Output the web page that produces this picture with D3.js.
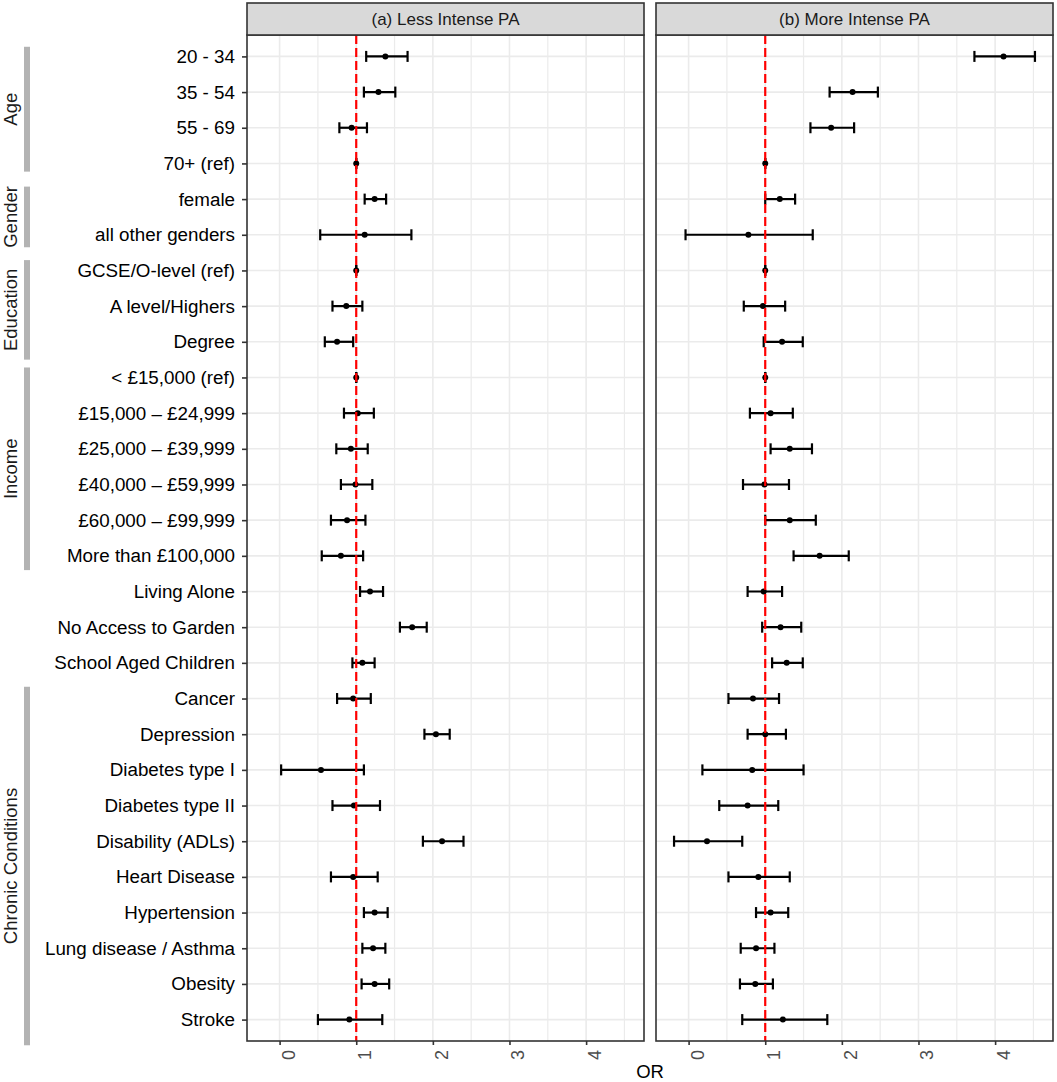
<!DOCTYPE html>
<html lang="en">
<head>
  <meta charset="UTF-8" />
  <title>Odds ratios for less and more intense PA</title>
  <script src="https://d3js.org/d3.v7.min.js"></script>
  <style>
    body { margin: 0; background: #fff; }
    svg { display: block; font-family: "Liberation Sans", Arial, Helvetica, sans-serif; }
  </style>
</head>
<body>
  <svg id="chart" width="1057" height="1082"></svg>

  <script>
    // Row labels, top to bottom
    const categories = [
      "20 - 34", "35 - 54", "55 - 69", "70+ (ref)",
      "female", "all other genders",
      "GCSE/O-level (ref)", "A level/Highers", "Degree",
      "< £15,000 (ref)", "£15,000 – £24,999", "£25,000 – £39,999",
      "£40,000 – £59,999", "£60,000 – £99,999", "More than £100,000",
      "Living Alone", "No Access to Garden", "School Aged Children",
      "Cancer", "Depression", "Diabetes type I", "Diabetes type II",
      "Disability (ADLs)", "Heart Disease", "Hypertension",
      "Lung disease / Asthma", "Obesity", "Stroke"
    ];

    // (a) Less Intense PA
    const lessOR = [1.38, 1.29, 0.94, 1, 1.24, 1.11, 1, 0.87, 0.75, 1, 1.02, 0.93, 0.99, 0.88, 0.80,
                    1.18, 1.73, 1.08, 0.96, 2.04, 0.54, 0.97, 2.12, 0.96, 1.24, 1.22, 1.24, 0.91];
    const lessLo = [1.13, 1.10, 0.78, 1, 1.11, 0.53, 1, 0.69, 0.59, 1, 0.84, 0.74, 0.80, 0.67, 0.55,
                    1.05, 1.57, 0.95, 0.75, 1.89, 0.02, 0.69, 1.87, 0.67, 1.10, 1.08, 1.07, 0.50];
    const lessHi = [1.67, 1.51, 1.14, 1, 1.39, 1.72, 1, 1.08, 0.96, 1, 1.23, 1.15, 1.21, 1.12, 1.09,
                    1.35, 1.92, 1.24, 1.19, 2.22, 1.10, 1.31, 2.40, 1.28, 1.41, 1.38, 1.43, 1.34];

    // (b) More Intense PA
    const moreOR = [4.11, 2.14, 1.86, 1, 1.19, 0.78, 1, 0.97, 1.22, 1, 1.07, 1.32, 0.99, 1.32, 1.71,
                    0.98, 1.20, 1.28, 0.84, 1.00, 0.83, 0.77, 0.24, 0.91, 1.07, 0.88, 0.87, 1.23];
    const moreLo = [3.73, 1.84, 1.59, 1, 1.00, -0.04, 1, 0.72, 0.98, 1, 0.80, 1.07, 0.71, 1.00, 1.37,
                    0.77, 0.96, 1.09, 0.52, 0.77, 0.18, 0.40, -0.19, 0.52, 0.88, 0.68, 0.67, 0.70];
    const moreHi = [4.52, 2.47, 2.16, 1, 1.39, 1.62, 1, 1.26, 1.49, 1, 1.36, 1.61, 1.31, 1.66, 2.09,
                    1.22, 1.47, 1.49, 1.18, 1.27, 1.50, 1.17, 0.70, 1.32, 1.30, 1.12, 1.10, 1.81];

    const panelTitles = ["(a) Less Intense PA", "(b) More Intense PA"];
    const xTicks = [0, 1, 2, 3, 4];
    const xMinorTicks = [0.5, 1.5, 2.5, 3.5, 4.5];
    const refLine = 1;

    // Variable groups on the left, as [first row, last row] in row units
    const groupNames = ["Age", "Gender", "Education", "Income", "Chronic Conditions"];
    const groupSpans = [[-0.27, 3.23], [3.65, 5.35], [5.71, 8.5], [8.72, 14.4], [17.67, 27.72]];

    const svg = d3.select("#chart");

    const stripTop = 3, stripH = 32;
    const plotTop = stripTop + stripH, plotBottom = 1041;
    const panelW = 397, panelLeft = [247, 656];

    const panels = [
      {title: panelTitles[0], or: lessOR, lo: lessLo, hi: lessHi},
      {title: panelTitles[1], or: moreOR, lo: moreLo, hi: moreHi}
    ];

    // shared x scale, ggplot style 5% expansion
    const xmin = d3.min([...lessLo, ...moreLo]);
    const xmax = d3.max([...lessHi, ...moreHi]);
    const pad = (xmax - xmin) * 0.05;
    const x = d3.scaleLinear().domain([xmin - pad, xmax + pad]).range([0, panelW]);

    const y = d3.scaleLinear()
        .domain([-0.6, categories.length - 0.4])
        .range([plotTop, plotBottom]);

    panels.forEach((p, k) => {
      const g = svg.append("g").attr("transform", `translate(${panelLeft[k]},0)`);

      // grid
      g.selectAll(".vminor").data(xMinorTicks).enter().append("line")
          .attr("x1", d => x(d)).attr("x2", d => x(d))
          .attr("y1", plotTop).attr("y2", plotBottom)
          .attr("stroke", "#ebebeb").attr("stroke-width", 1.2);
      g.selectAll(".vmajor").data(xTicks).enter().append("line")
          .attr("x1", d => x(d)).attr("x2", d => x(d))
          .attr("y1", plotTop).attr("y2", plotBottom)
          .attr("stroke", "#ebebeb").attr("stroke-width", 1.6);
      g.selectAll(".hgrid").data(categories).enter().append("line")
          .attr("x1", 0).attr("x2", panelW)
          .attr("y1", (d, i) => y(i)).attr("y2", (d, i) => y(i))
          .attr("stroke", "#ebebeb").attr("stroke-width", 1.6);

      // error bars
      const rows = categories.map((c, i) => ({i, or: p.or[i], lo: p.lo[i], hi: p.hi[i]}));
      const eb = g.selectAll(".eb").data(rows).enter().append("g")
          .attr("stroke", "#000").attr("stroke-width", 2.2);
      eb.append("line")
          .attr("x1", d => x(d.lo)).attr("x2", d => x(d.hi))
          .attr("y1", d => y(d.i)).attr("y2", d => y(d.i));
      eb.append("line")
          .attr("x1", d => x(d.lo)).attr("x2", d => x(d.lo))
          .attr("y1", d => y(d.i) - 5.5).attr("y2", d => y(d.i) + 5.5);
      eb.append("line")
          .attr("x1", d => x(d.hi)).attr("x2", d => x(d.hi))
          .attr("y1", d => y(d.i) - 5.5).attr("y2", d => y(d.i) + 5.5);

      g.selectAll(".pt").data(rows).enter().append("circle")
          .attr("cx", d => x(d.or)).attr("cy", d => y(d.i))
          .attr("r", 3).attr("fill", "#000");

      // reference line at OR = 1
      g.append("line")
          .attr("x1", x(refLine)).attr("x2", x(refLine))
          .attr("y1", plotTop).attr("y2", plotBottom)
          .attr("stroke", "#ff0000").attr("stroke-width", 2.2)
          .attr("stroke-dasharray", "9,4");

      // panel border
      g.append("rect")
          .attr("x", 0).attr("y", plotTop)
          .attr("width", panelW).attr("height", plotBottom - plotTop)
          .attr("fill", "none").attr("stroke", "#333").attr("stroke-width", 1.6);

      // strip
      g.append("rect")
          .attr("x", 0).attr("y", stripTop)
          .attr("width", panelW).attr("height", stripH)
          .attr("fill", "#d9d9d9").attr("stroke", "#333").attr("stroke-width", 1.6);
      g.append("text")
          .attr("x", panelW / 2).attr("y", stripTop + stripH / 2)
          .attr("dy", "0.36em")
          .attr("text-anchor", "middle")
          .attr("font-size", "17px")
          .attr("fill", "#1a1a1a")
          .text(p.title);

      // x axis
      const xa = g.append("g")
          .attr("transform", `translate(0,${plotBottom})`)
          .call(d3.axisBottom(x).tickValues(xTicks).tickFormat(d3.format("d"))
            .tickSize(4).tickSizeOuter(0));
      xa.select(".domain").remove();
      xa.selectAll(".tick line").attr("stroke", "#333").attr("stroke-width", 1.6);
      xa.selectAll(".tick text")
          .attr("x", null).attr("y", null).attr("dy", null)
          .attr("transform", "translate(14.5,14) rotate(-90)")
          .attr("text-anchor", "middle")
          .attr("font-size", "18px")
          .attr("font-family", null)
          .attr("fill", "#4d4d4d");
    });

    // y axis on the left panel
    const ya = svg.append("g")
        .attr("transform", `translate(${panelLeft[0]},0)`)
        .call(d3.axisLeft(y)
          .tickValues(d3.range(categories.length))
          .tickFormat(i => categories[i])
          .tickSize(5).tickPadding(7).tickSizeOuter(0));
    ya.select(".domain").remove();
    ya.selectAll(".tick line").attr("stroke", "#333").attr("stroke-width", 1.6);
    ya.selectAll(".tick text")
        .attr("font-size", "18.8px")
        .attr("font-family", null)
        .attr("fill", "#000");

    // group bars and labels
    groupNames.forEach((name, j) => {
      const y0 = y(groupSpans[j][0]), y1 = y(groupSpans[j][1]);
      svg.append("rect")
          .attr("x", 24).attr("y", y0)
          .attr("width", 6).attr("height", y1 - y0)
          .attr("fill", "#b3b3b3");
      svg.append("text")
          .attr("transform", `translate(16.5,${(y0 + y1) / 2}) rotate(-90)`)
          .attr("text-anchor", "middle")
          .attr("font-size", "18.5px")
          .attr("fill", "#1a1a1a")
          .text(name);
    });

    // x axis title
    svg.append("text")
        .attr("x", (panelLeft[0] + panelLeft[1] + panelW) / 2)
        .attr("y", 1078)
        .attr("text-anchor", "middle")
        .attr("font-size", "18.5px")
        .attr("fill", "#000")
        .text("OR");
  </script>
</body>
</html>
